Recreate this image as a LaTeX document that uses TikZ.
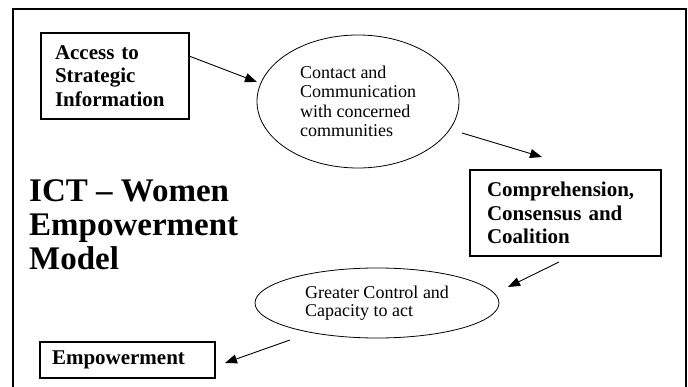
\documentclass[tikz,border=0pt]{standalone}
\usepackage{fontspec}
\setmainfont{Liberation Serif}
\usetikzlibrary{arrows.meta,shapes.geometric}

\begin{document}
\begin{tikzpicture}[x=1pt,y=-1pt,
    box/.style={draw,line width=1.2pt,rectangle,inner ysep=0pt,outer sep=0pt,align=left,
      font=\fontsize{21}{23.5}\selectfont\bfseries},
    bubble/.style={draw,line width=0.8pt,ellipse,inner sep=0pt,outer sep=0pt,align=left,
      font=\fontsize{18}{19.5}\selectfont},
    flow/.style={line width=0.9pt,-{Triangle[length=12pt,width=9pt]}}]
  \useasboundingbox (0,0) rectangle (688,387);
  % open frame, cut off at the bottom
  \draw[line width=1.3pt] (13,387) |- (686,9) -- (686,387);

  \node[box,minimum width=148pt,minimum height=86pt,text width=120pt,inner xsep=14pt] (access) at (115,76) {Access to\\Strategic\\Information};
  \node[bubble,minimum width=202pt,minimum height=133pt] (contact) at (358,101.5) {Contact and\\Communication\\with concerned\\communities};
  \node[box,minimum width=191pt,minimum height=86pt,text width=157pt,inner xsep=17pt] (coalition) at (565.5,213) {Comprehension,\\Consensus and\\Coalition};
  \node[bubble,font=\fontsize{18}{18}\selectfont,minimum width=244pt,minimum height=70pt] (control) at (377,303) {Greater Control and\\Capacity to act};
  \node[box,minimum width=175pt,minimum height=36pt,text width=151pt,inner xsep=12pt] (empower) at (127.5,360) {Empowerment};
  \node[anchor=base west,inner sep=0pt,align=left,font=\fontsize{33}{34}\selectfont\bfseries] (title) at (29,270) {ICT – Women\\Empowerment\\Model};

  % arrows between the stages
  \draw[flow] ([yshift=20pt]access.east) -- ([yshift=19.5pt]contact.west);
  \draw[flow] ([xshift=3pt,yshift=-31.5pt]contact.east) -- ([xshift=-23.5pt,yshift=13pt]coalition.north);
  \draw[flow] ([xshift=-6.5pt,yshift=-6pt]coalition.south) -- ([xshift=9pt,yshift=16pt]control.east);
  \draw[flow] ([xshift=-87pt,yshift=-2pt]control.south) -- ([xshift=10pt,yshift=-3pt]empower.east);
\end{tikzpicture}
\end{document}
